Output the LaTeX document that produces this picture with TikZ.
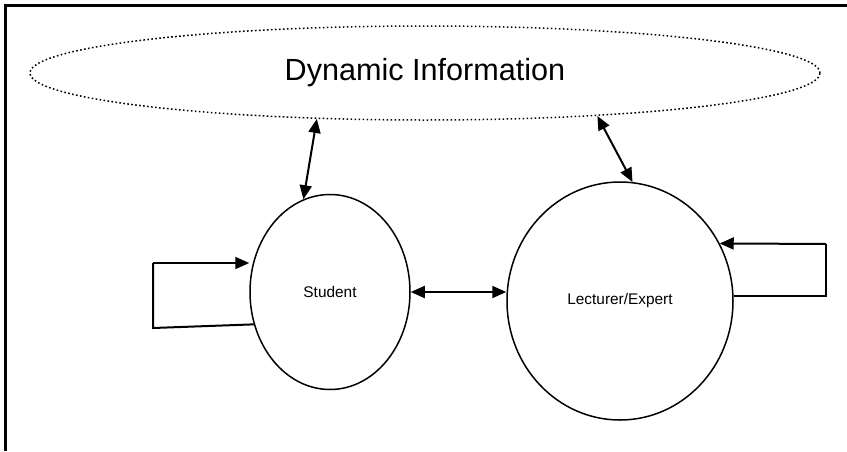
\documentclass[tikz,border=0pt]{standalone}
\usepackage{fontspec}
\setmainfont{Liberation Sans}
\usetikzlibrary{shapes.geometric,arrows.meta}

\begin{document}
\begin{tikzpicture}[x=.5pt,y=-.5pt,line width=.75pt,
  bubble/.style={ellipse,draw,inner sep=0pt,font=\fontsize{7.7}{9}\selectfont},
  dbl/.style={{Triangle[length=7pt,width=6pt]}-{Triangle[length=7pt,width=6pt]},line width=1pt},
  loop/.style={-{Triangle[length=7pt,width=6pt]},line width=1pt}]
\useasboundingbox (0,0) rectangle (847,451);
\draw[line width=1.5pt] (5,451)--(5,5)--(847,5);
\node[ellipse,draw,inner sep=0pt,minimum width=395pt,minimum height=47pt,dash pattern=on .8pt off 1.2pt,
  font=\fontsize{15.3}{18}\selectfont] (info) at (425,73) {Dynamic Information};
\node[bubble,minimum width=80pt,minimum height=97.5pt] (stu) at (330,292) {Student};
\node[bubble,minimum width=113pt,minimum height=119pt] (lec) at (620,301) {Lecturer/Expert};
\coordinate (l1) at (153,263);\coordinate (l2) at (153,328);
\coordinate (r1) at (826,244);\coordinate (r2) at (826,296);
\draw[dbl] (stu.106) -- (info.203);
\draw[dbl] (lec.84) -- (info.-14.5);
\draw[dbl] (stu.east) -- (lec.west |- stu.east);
\draw[line width=1pt] (stu.203)--(l2)--(l1);
\draw[loop] (l1) -- (l1 -| stu.west);
\draw[line width=1pt] (lec.east |- r2)--(r2)--(r1);
\draw[loop] (r1) -- (lec.30);
\end{tikzpicture}
\end{document}
